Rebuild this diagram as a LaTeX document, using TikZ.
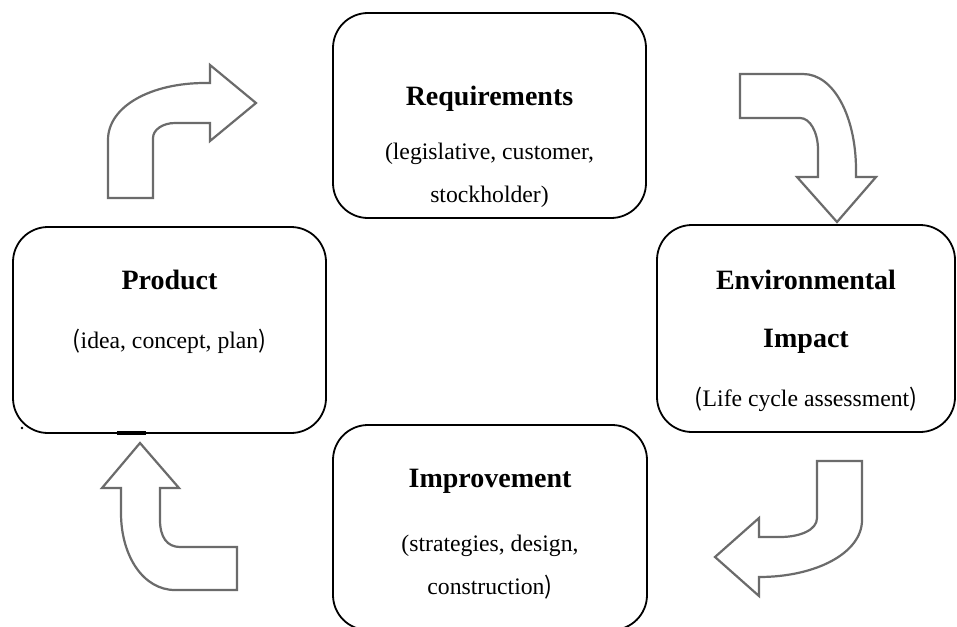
\documentclass[tikz,border=0pt]{standalone}
\usepackage{fontspec}
\setmainfont{Liberation Serif}
\newfontfamily\thinparen{Noto Sans CJK SC}
\definecolor{arrowgray}{HTML}{6B6B6B}
\tikzset{
  stage/.style={draw=black, line width=1.8pt, rounded corners=35pt, fill=white,
                inner sep=0pt, outer sep=0pt},
  heading/.style={font=\fontsize{28}{30}\selectfont\bfseries, anchor=base, inner sep=0pt},
  detail/.style={font=\fontsize{23.7}{26}\selectfont, anchor=base, inner sep=0pt},
  bent/.style={draw=arrowgray, line width=2.2pt, fill=white, line join=miter},
}
\begin{document}
\begin{tikzpicture}[x=1pt, y=-1pt]
\useasboundingbox (0,0) rectangle (957,626);
\clip (0,0) rectangle (957,626);
\fill[white] (0,0) rectangle (957,626);

% the four stages of the cycle
\node[stage, minimum width=313pt, minimum height=205pt] (req) at (489.5,115.5) {};
\node[stage, minimum width=313pt, minimum height=206pt] (prod) at (169.5,330) {};
\node[stage, minimum width=298pt, minimum height=207pt] (env) at (806,328.5) {};
\node[stage, minimum width=314pt, minimum height=205pt] (imp) at (490,527.5) {};

% texts
\node[heading] (reqT) at (489.5,105) {Requirements};
\node[detail]  (reqA) at (489.5,159) {(legislative, customer,};
\node[detail]  (reqB) at (489.5,202) {stockholder)};

\node[heading] (prodT) at (169.5,289) {Product};
\node[detail]  (prodA) at (169.5,348) {{\thinparen(}idea, concept, plan{\thinparen)}};

\node[heading] (envT) at (806,289) {Environmental};
\node[heading] (envI) at (806,347) {Impact};
\node[detail]  (envA) at (806,406) {{\thinparen(}Life cycle assessment{\thinparen)}};

\node[heading] (impT) at (490,487) {Improvement};
\node[detail]  (impA) at (490,551) {(strategies, design,};
\node[detail]  (impB) at (490,594) {construction{\thinparen)}};

% bent block arrows between the stages
% product -> requirements
\draw[bent] (108,198) -- (108,140)
  .. controls (108,106) and (151.4,83) .. (205,83) -- (210,83)
  -- (210,65) -- (256,103) -- (210,141) -- (210,123) -- (175,123)
  .. controls (162.8,123) and (153,129.7) .. (153,138) -- (153,198) -- cycle;
% requirements -> environmental impact
\draw[bent] (740,74) -- (803,74)
  .. controls (834,74) and (856,117) .. (856,170) -- (856,177)
  -- (876,177) -- (837,222) -- (797,177) -- (818,177) -- (818,150)
  .. controls (818,132) and (810,118) .. (800,118) -- (740,118) -- cycle;
% environmental impact -> improvement
\draw[bent] (817,461) -- (862,461) -- (862,520)
  .. controls (862,553) and (815.9,577) .. (759,577)
  -- (759,596) -- (715,557) -- (759,518) -- (759,537) -- (780,537)
  .. controls (800,537) and (817,530) .. (817,518) -- cycle;
% improvement -> product
\draw[bent] (237,590) -- (175,590)
  .. controls (143,590) and (121,555.5) .. (121,513) -- (121,488)
  -- (102,488) -- (140,443) -- (179,488) -- (160,488) -- (160,520)
  .. controls (160,537) and (167,547) .. (180,547) -- (237,547) -- cycle;

% small marks left on the product box
\draw[line width=3.2pt] (117,433) -- (146,433);
\fill (22,428) circle (1.3pt);
\end{tikzpicture}
\end{document}
